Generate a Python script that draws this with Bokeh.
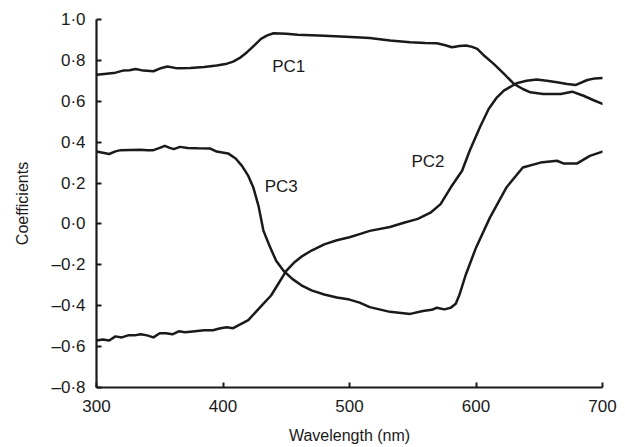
from bokeh.plotting import figure
from bokeh.models import FixedTicker, CustomJSTickFormatter, Range1d, ColumnDataSource
from bokeh.core.properties import value
from bokeh.embed import file_html
from bokeh.resources import INLINE

# ---- data ----
pc1_wl = [300, 308, 315, 321, 326, 331, 337, 345, 350, 356, 364, 374, 385, 395, 402, 408,
          414, 419, 425, 430, 435, 440, 450, 459, 470, 480, 493, 505, 516, 532, 548, 560,
          569, 575, 581, 587, 592, 597, 601, 607, 614, 622, 630, 637, 643, 653, 667, 676,
          685, 693, 700]
pc1 = [0.73, 0.735, 0.74, 0.75, 0.752, 0.758, 0.75, 0.747, 0.76, 0.77, 0.761, 0.763, 0.768,
       0.775, 0.782, 0.794, 0.815, 0.84, 0.875, 0.905, 0.922, 0.933, 0.93, 0.926, 0.923,
       0.92, 0.917, 0.913, 0.91, 0.897, 0.889, 0.885, 0.884, 0.875, 0.864, 0.87, 0.873,
       0.866, 0.856, 0.82, 0.783, 0.735, 0.685, 0.66, 0.644, 0.636, 0.636, 0.647, 0.627,
       0.605, 0.587]

pc2_wl = [300, 305, 310, 315, 320, 325, 330, 335, 340, 345, 350, 355, 360, 365, 370, 378,
          385, 392, 398, 403, 408, 414, 420, 426, 432, 438, 444, 450, 456, 462, 470, 480,
          490, 500, 508, 516, 532, 543, 554, 564, 572, 580, 589, 595, 603, 610, 616, 622,
          632, 640, 648, 656, 664, 672, 679, 688, 694, 700]
pc2 = [-0.57, -0.565, -0.57, -0.55, -0.555, -0.545, -0.545, -0.54, -0.545, -0.555, -0.535,
       -0.535, -0.54, -0.525, -0.53, -0.525, -0.52, -0.52, -0.51, -0.505, -0.51, -0.49,
       -0.47, -0.43, -0.39, -0.35, -0.29, -0.23, -0.19, -0.16, -0.13, -0.1, -0.08, -0.065,
       -0.05, -0.034, -0.015, 0.006, 0.025, 0.055, 0.097, 0.178, 0.26, 0.358, 0.472, 0.562,
       0.615, 0.652, 0.688, 0.70, 0.706, 0.70, 0.693, 0.685, 0.68, 0.704, 0.712, 0.714]

pc3_wl = [300, 305, 310, 315, 319, 327, 335, 340, 345, 350, 354, 358, 361, 366, 372, 380,
          390, 395, 404, 410, 415, 420, 424, 428, 432, 437, 442, 448, 455, 462, 470, 480,
          490, 500, 508, 516, 532, 548, 558, 565, 569, 575, 580, 584, 587, 592, 600, 611,
          624, 637, 651, 664, 669, 680, 690, 700]
pc3 = [0.354, 0.348, 0.342, 0.355, 0.361, 0.362, 0.363, 0.36, 0.361, 0.372, 0.382, 0.372,
       0.366, 0.377, 0.372, 0.37, 0.369, 0.354, 0.345, 0.32, 0.284, 0.235, 0.178, 0.09,
       -0.034, -0.11, -0.18, -0.23, -0.27, -0.3, -0.325, -0.345, -0.36, -0.37, -0.385,
       -0.407, -0.43, -0.44, -0.426, -0.42, -0.41, -0.418, -0.41, -0.39, -0.345, -0.247,
       -0.116, 0.031, 0.178, 0.276, 0.30, 0.309, 0.296, 0.296, 0.333, 0.354]

label_names = ["PC1", "PC2", "PC3"]
label_x = [452, 562, 446]
label_y = [0.772, 0.304, 0.184]

x_ticks = [300, 400, 500, 600, 700]
y_ticks = [-0.8, -0.6, -0.4, -0.2, 0.0, 0.2, 0.4, 0.6, 0.8, 1.0]

FONT = "Liberation Sans"
INK = "#1a1a1a"

p = figure(frame_width=506, frame_height=368, output_backend="svg", toolbar_location=None,
           x_range=Range1d(300, 700), y_range=Range1d(-0.8, 1.0),
           min_border_left=96, min_border_right=15, min_border_top=19, min_border_bottom=56)
p.outline_line_color = None
p.grid.visible = False
p.background_fill_color = "white"

for wl, vals in ((pc1_wl, pc1), (pc2_wl, pc2), (pc3_wl, pc3)):
    p.line(wl, vals, line_color=INK, line_width=2.5, line_join="round", line_cap="round")

src = ColumnDataSource(dict(x=label_x, y=label_y, t=label_names))
p.text(x="x", y="y", text="t", source=src, text_font=value(FONT), text_font_size="17px",
       text_color=INK, text_align="center", text_baseline="middle")

p.xaxis.ticker = FixedTicker(ticks=x_ticks)
p.yaxis.ticker = FixedTicker(ticks=y_ticks)
p.yaxis.formatter = CustomJSTickFormatter(
    code='var s = Math.abs(tick).toFixed(1).replace(".", "\\u00b7"); return (tick < -1e-9 ? "\\u2013" : "") + s;')

for ax in (p.xaxis[0], p.yaxis[0]):
    ax.axis_line_width = 2.2
    ax.axis_line_color = INK
    ax.major_tick_line_width = 2
    ax.major_tick_line_color = INK
    ax.major_tick_in = 5
    ax.major_tick_out = 0
    ax.minor_tick_line_color = None
    ax.major_label_text_font = FONT
    ax.major_label_text_font_size = "17px"
    ax.major_label_text_color = INK
    ax.axis_label_text_font = FONT
    ax.axis_label_text_font_size = "16px"
    ax.axis_label_text_font_style = "normal"
    ax.axis_label_text_color = INK

p.xaxis.axis_label = "Wavelength (nm)"
p.yaxis.axis_label = "Coefficients"
p.xaxis.major_label_standoff = 12
p.yaxis.major_label_standoff = 11
p.xaxis.axis_label_standoff = 12
p.yaxis.axis_label_standoff = 17

open("out.html", "w").write(file_html(p, INLINE))
